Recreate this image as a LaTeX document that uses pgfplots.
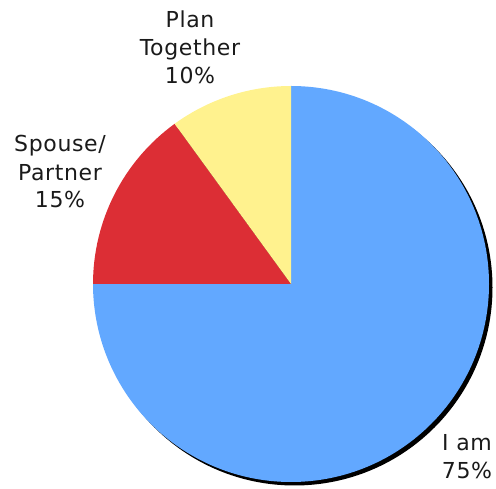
\documentclass[border=0pt]{standalone}
\usepackage{fontspec}
\setmainfont[LetterSpace=3]{DejaVu Sans}
\usepackage{pgfplots}
\usepackage{pgfplotstable}
\pgfplotsset{compat=1.18}

\definecolor{sliceblue}{HTML}{62A8FF}
\definecolor{slicered}{HTML}{DC2E35}
\definecolor{sliceyellow}{HTML}{FFF28E}
\definecolor{labeltext}{HTML}{1A1A1A}

% slices clockwise from 12 o'clock; lx/ly = label centre (pt, from bottom-left)
\pgfplotstableread{
label pct color lx ly
{I am} 75 sliceblue 467 32
{Spouse/\\Partner} 15 slicered 60 317
{Plan\\Together} 10 sliceyellow 190 442
}\piedata

\def\cx{291}
\def\cy{205}
\def\rad{198pt}

\begin{document}
\begin{tikzpicture}
\begin{axis}[
  width=496pt, height=489pt,
  scale only axis,
  xmin=0, xmax=496, ymin=0, ymax=489,
  hide axis,
  clip=false,
]
\path (axis cs:0,0) (axis cs:496,489);
% drop shadow
\fill[black] (axis cs:\cx+3.5,\cy-3.5) circle[radius=\rad];
\pgfplotstablegetrowsof{\piedata}
\pgfmathtruncatemacro\lastrow{\pgfplotsretval-1}
\def\startangle{90}
\pgfplotsforeachungrouped \i in {0,...,\lastrow}{
  \pgfplotstablegetelem{\i}{pct}\of\piedata \let\pct\pgfplotsretval
  \pgfplotstablegetelem{\i}{color}\of\piedata \let\col\pgfplotsretval
  \pgfplotstablegetelem{\i}{label}\of\piedata \let\lab\pgfplotsretval
  \pgfplotstablegetelem{\i}{lx}\of\piedata \let\lx\pgfplotsretval
  \pgfplotstablegetelem{\i}{ly}\of\piedata \let\ly\pgfplotsretval
  \pgfmathsetmacro\endangle{\startangle-3.6*\pct}
  \edef\temp{%
    \noexpand\fill[\col] (axis cs:\cx,\cy) -- ([shift={(\startangle:\rad)}]axis cs:\cx,\cy)
      arc[start angle=\startangle, end angle=\endangle, radius=\rad] -- cycle;
    \noexpand\node[align=center, inner sep=0pt, text=labeltext,
      font=\noexpand\fontsize{22}{28}\noexpand\selectfont]
      at (axis cs:\lx,\ly) {\unexpanded\expandafter{\lab}\noexpand\\\pct\noexpand\%};
  }
  \temp
  \let\startangle\endangle
}
\end{axis}
\end{tikzpicture}
\end{document}
